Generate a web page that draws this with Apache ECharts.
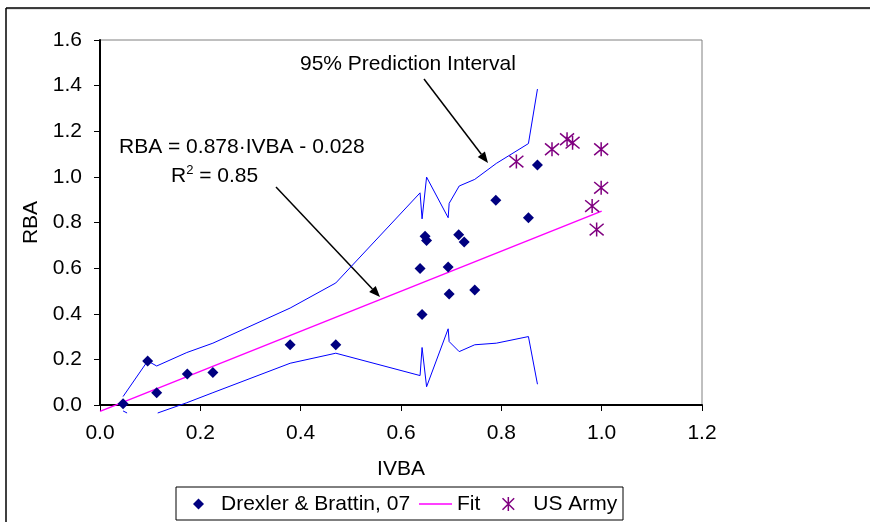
<!DOCTYPE html>
<html>
<head>
<meta charset="utf-8">
<script src="https://cdn.jsdelivr.net/npm/echarts@6/dist/echarts.min.js"></script>
<style>
  html, body { margin: 0; padding: 0; background: #fff; }
  #chart { width: 870px; height: 522px; }
</style>
</head>
<body>
<div id="chart"></div>
<script>
const FONT = '"Liberation Sans", Arial, sans-serif';

// Drexler & Brattin, 07
const dbX = [0.046, 0.095, 0.113, 0.174, 0.225, 0.379, 0.470, 0.638, 0.642, 0.648, 0.651, 0.694, 0.696, 0.715, 0.726, 0.747, 0.789, 0.854, 0.872];
const dbY = [0.006, 0.193, 0.054, 0.136, 0.142, 0.264, 0.264, 0.598, 0.397, 0.740, 0.721, 0.605, 0.487, 0.746, 0.715, 0.504, 0.898, 0.821, 1.052];

// US Army
const usX = [0.830, 0.901, 0.931, 0.942, 0.999, 0.999, 0.981, 0.990];
const usY = [1.067, 1.121, 1.165, 1.150, 1.121, 0.952, 0.872, 0.769];

// 95% prediction interval, upper and lower (null = gap)
const upX = [0.046, 0.095, 0.113, 0.173, 0.225, 0.379, 0.470, 0.638, 0.642, 0.651, 0.694, 0.696, 0.716, 0.747, 0.790, 0.854, 0.872];
const upY = [0.037, 0.193, 0.171, 0.230, 0.271, 0.425, 0.535, 0.930, 0.816, 0.999, 0.821, 0.884, 0.960, 0.989, 1.059, 1.146, 1.385];
const loX = [0.046, 0.054, 0.080, 0.115, 0.173, 0.225, 0.379, 0.470, 0.638, 0.642, 0.651, 0.694, 0.696, 0.716, 0.747, 0.790, 0.854, 0.872];
const loY = [-0.026, -0.035, null, -0.035, 0.010, 0.054, 0.183, 0.227, 0.129, 0.252, 0.080, 0.334, 0.278, 0.234, 0.264, 0.271, 0.300, 0.091];

// Fit line end points
const fitX = [0.0, 1.0];
const fitY = [-0.028, 0.85];

const pairs = (xs, ys) => xs.map((x, i) => [x, ys[i] === null ? '-' : ys[i]]);

const asterisk = 'path://M0,0L10,10M10,0L0,10M5,-1L5,11';

function arrow(x1, y1, x2, y2) {
  const a = Math.atan2(y2 - y1, x2 - x1);
  const len = 11, half = 4.5;
  const bx = x2 - len * Math.cos(a), by = y2 - len * Math.sin(a);
  return [
    { type: 'line', shape: { x1: x1, y1: y1, x2: bx, y2: by }, style: { stroke: '#000', lineWidth: 1.5 } },
    { type: 'polygon', shape: { points: [[x2, y2], [bx + half * Math.sin(a), by - half * Math.cos(a)], [bx - half * Math.sin(a), by + half * Math.cos(a)]] }, style: { fill: '#000' } }
  ];
}

const chart = echarts.init(document.getElementById('chart'));

const legendText = pad => ({ fontFamily: FONT, fontSize: 21, color: '#000', lineHeight: 22, padding: [0, 0, 0, pad] });

chart.setOption({
  animation: false,
  backgroundColor: '#fff',
  textStyle: { fontFamily: FONT },
  grid: { left: 100, right: 168, top: 40, bottom: 117, show: true, borderColor: '#808080', borderWidth: 1 },
  xAxis: {
    type: 'value', min: 0, max: 1.2, interval: 0.2,
    name: 'IVBA', nameLocation: 'middle', nameGap: 54,
    nameTextStyle: { fontFamily: FONT, fontSize: 21, color: '#000' },
    axisLine: { lineStyle: { color: '#000', width: 2 } },
    axisTick: { show: true, length: 6, lineStyle: { color: '#000' } },
    axisLabel: { fontFamily: FONT, fontSize: 21, color: '#000', margin: 18, formatter: v => v.toFixed(1) },
    splitLine: { show: false }
  },
  yAxis: {
    type: 'value', min: 0, max: 1.6, interval: 0.2,
    name: 'RBA', nameLocation: 'middle', nameGap: 57,
    nameTextStyle: { fontFamily: FONT, fontSize: 21, color: '#000' },
    axisLine: { show: true, lineStyle: { color: '#000', width: 2 } },
    axisTick: { show: true, length: 6, lineStyle: { color: '#000' } },
    axisLabel: { fontFamily: FONT, fontSize: 21, color: '#000', margin: 18, formatter: v => v.toFixed(1) },
    splitLine: { show: false }
  },
  legend: [
    {
      data: [{ name: 'Drexler & Brattin, 07', icon: 'diamond', itemStyle: { color: '#000080', opacity: 1 } }],
      left: 193, top: 493, padding: 0, itemWidth: 11, itemHeight: 11, textStyle: legendText(12)
    },
    {
      data: [{ name: 'Fit', icon: 'rect', itemStyle: { color: '#FF00FF' } }],
      left: 419, top: 493, padding: 0, itemWidth: 33, itemHeight: 1.5, textStyle: legendText(0)
    },
    {
      data: [{ name: 'US Army', icon: asterisk, itemStyle: { color: 'none', borderColor: '#800080', borderWidth: 1.5, opacity: 1 } }],
      left: 500, top: 493, padding: 0, itemWidth: 14, itemHeight: 14, textStyle: legendText(13)
    }
  ],
  series: [
    {
      name: 'Upper', type: 'line', data: pairs(upX, upY), symbol: 'none', clip: false,
      lineStyle: { color: '#0000FF', width: 1 }, z: 2
    },
    {
      name: 'Lower', type: 'line', data: pairs(loX, loY), symbol: 'none', clip: false, connectNulls: false,
      lineStyle: { color: '#0000FF', width: 1 }, z: 2
    },
    {
      name: 'Fit', type: 'line', data: pairs(fitX, fitY), symbol: 'none', clip: false,
      lineStyle: { color: '#FF00FF', width: 1.5 }, itemStyle: { color: '#FF00FF' }, z: 3
    },
    {
      name: 'Drexler & Brattin, 07', type: 'scatter', data: pairs(dbX, dbY), symbol: 'diamond', symbolSize: 11,
      itemStyle: { color: '#000080', opacity: 1 }, z: 5
    },
    {
      name: 'US Army', type: 'scatter', data: pairs(usX, usY), symbol: asterisk, symbolSize: 14,
      itemStyle: { color: 'none', borderColor: '#800080', borderWidth: 1.5, opacity: 1 }, z: 5
    }
  ],
  graphic: [
    // outer frame
    { type: 'line', shape: { x1: 6, y1: 9, x2: 870, y2: 9 }, style: { stroke: '#c8c8c8', lineWidth: 1 } },
    { type: 'line', shape: { x1: 6, y1: 8, x2: 870, y2: 8 }, style: { stroke: '#000', lineWidth: 1.5 } },
    { type: 'line', shape: { x1: 6, y1: 8, x2: 6, y2: 522 }, style: { stroke: '#000', lineWidth: 1.5 } },
    // legend box
    { type: 'rect', shape: { x: 176, y: 487, width: 447, height: 33 }, style: { fill: 'none', stroke: '#000', lineWidth: 1 }, z: -1 },
    // annotations
    { type: 'text', left: 300, top: 54, style: { text: '95% Prediction Interval', font: '21px ' + FONT, fill: '#000' } },
    { type: 'text', left: 119, top: 137, style: { text: 'RBA = 0.878·IVBA - 0.028', font: '21px ' + FONT, fill: '#000' } },
    {
      type: 'text', left: 171, top: 164,
      style: {
        text: '{a|R}{s|2}{a| = 0.85}', fill: '#000',
        rich: { a: { fontFamily: FONT, fontSize: 21 }, s: { fontFamily: FONT, fontSize: 13, padding: [0, 0, 12, 0] } }
      }
    },
    ...arrow(424, 79, 488, 163),
    ...arrow(276, 187, 380, 297)
  ]
});
</script>
</body>
</html>
